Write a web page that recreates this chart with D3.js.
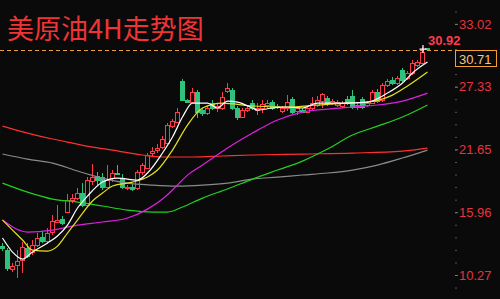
<!DOCTYPE html>
<html><head><meta charset="utf-8">
<script src="https://cdn.jsdelivr.net/npm/d3@7/dist/d3.min.js"></script>
<style>html,body{margin:0;padding:0;background:#0a0a0a;}svg{display:block;}</style>
</head><body>
<svg id="c" width="500" height="299"></svg>
<script>
// ---- data ----
const title = "美原油4H走势图";
const tickValues = [33.02, 27.33, 21.65, 15.96, 10.27];
const tickLabels = ["33.02", "27.33", "21.65", "15.96", "10.27"];
const lastPrice = 30.71;
const highPrice = 30.92;
// candles: [open, high, low, close]
const candles = [
[12.89,13.17,12.44,12.71],[12.53,12.71,10.63,10.90],[10.81,11.35,10.54,11.08],[11.17,12.53,9.99,11.53],
[11.62,13.26,10.45,12.80],[12.71,13.17,11.81,11.99],[12.35,13.44,12.08,12.98],[12.98,14.09,12.80,13.62],
[13.71,14.27,13.17,13.26],[13.26,14.54,13.07,14.00],[14.09,15.70,13.89,15.16],[15.07,16.61,14.98,15.25],
[15.34,15.61,14.80,14.98],[15.97,17.60,15.88,17.06],[17.06,17.60,16.79,17.24],[17.24,18.15,17.06,17.69],
[17.69,18.60,16.43,16.61],[16.61,19.14,16.43,18.87],[18.78,20.32,18.42,19.14],[19.23,19.60,18.42,18.87],
[19.14,19.51,17.97,18.24],[18.24,20.23,18.15,18.87],[19.05,19.78,18.69,19.51],[19.51,20.23,19.33,19.42],
[18.96,19.42,18.06,18.24],[18.15,18.42,17.97,18.24],[18.24,18.51,17.88,18.06],[18.15,19.78,17.97,19.60],
[19.60,20.41,19.33,20.23],[19.96,21.32,19.87,21.14],[21.32,21.86,21.05,21.50],[21.59,22.13,21.32,21.77],
[21.86,22.86,21.68,22.59],[22.22,24.04,22.13,23.86],[23.76,24.40,23.58,24.22],[24.13,25.40,24.04,25.03],
[27.84,28.02,26.03,26.12],[26.12,26.21,25.85,25.94],[25.94,27.21,25.85,26.85],[26.85,27.03,24.49,25.03],
[25.21,25.40,24.67,24.94],[24.94,25.58,24.76,25.40],[25.85,26.12,25.21,25.40],[25.40,25.85,25.03,25.58],
[25.40,26.85,25.21,26.39],[26.94,27.66,26.75,27.21],[27.03,27.21,25.21,25.40],[25.40,25.58,24.31,24.58],
[24.58,25.40,24.49,25.21],[25.21,25.67,25.03,25.40],[25.85,26.12,25.21,25.40],[25.21,25.85,24.76,25.40],
[25.40,26.12,24.94,25.76],[25.67,26.12,25.40,25.85],[25.94,26.12,25.21,25.40],[25.58,25.76,25.31,25.49],
[25.12,25.58,24.94,25.40],[25.31,26.57,25.12,25.94],[26.21,26.39,24.85,25.03],[25.12,25.49,24.76,25.31],
[25.21,25.40,24.94,25.03],[25.03,25.58,24.94,25.40],[25.40,26.39,25.12,25.85],[25.67,26.48,25.49,26.12],
[26.03,26.75,25.40,26.66],[26.30,26.48,25.58,25.85],[25.85,26.21,25.67,26.03],[25.67,26.12,25.49,25.94],
[25.58,26.03,25.40,25.85],[26.21,26.48,25.67,25.85],[26.48,27.03,25.31,25.49],[25.49,25.85,25.21,25.67],
[26.21,26.39,25.31,25.49],[25.67,26.03,25.49,25.85],[25.85,27.03,25.76,26.85],[26.85,27.12,25.85,26.03],
[26.12,27.66,25.94,27.48],[27.48,28.02,27.30,27.84],[27.93,28.20,27.48,27.66],[27.66,28.29,27.48,28.11],
[28.84,29.02,27.75,27.93],[28.11,28.75,27.93,28.57],[28.57,29.74,28.39,29.47],[29.29,29.74,29.11,29.56],
[29.47,30.92,29.38,30.47],[30.80,30.85,30.62,30.71]
];
// moving averages: [candle index, value]
const maWhite = [[0,13.62],[2,12.35],[4,11.71],[6,12.35],[9,13.16],[11,13.80],[13,14.79],[15,16.34],[17,17.42],[20,18.69],[23,19.05],[27,18.87],[29,19.51],[32,21.32],[34,22.77],[36,24.58],[38,25.85],[41,25.85],[43,25.40],[45,26.03],[47,25.94],[50,25.40],[51,25.21],[54,25.40],[57,25.49],[60,25.40],[63,25.85],[68,25.85],[73,25.94],[77,26.75],[80,27.66],[82,28.57],[85,29.56]];
const maYellow = [[0,15.25],[2,14.34],[4,13.44],[6,12.53],[9,12.44],[11,12.89],[13,14.07],[15,15.25],[18,16.97],[20,17.69],[22,18.33],[26,18.69],[29,19.14],[31,19.78],[34,21.59],[37,23.85],[40,25.40],[44,25.85],[50,25.58],[57,25.49],[63,25.67],[69,25.85],[73,25.94],[78,26.57],[81,27.39],[85,28.66]];
const maMagenta = [[0,15.25],[5,14.16],[10,14.34],[15,14.79],[20,15.07],[25,15.43],[29,16.24],[32,17.15],[34,17.97],[37,19.32],[40,20.23],[45,21.77],[50,23.13],[55,24.31],[60,25.03],[65,25.30],[70,25.49],[75,25.67],[80,26.03],[85,26.75]];
const maGreen = [[0,18.60],[5,17.78],[10,17.15],[15,16.88],[20,16.52],[25,16.15],[30,15.97],[33,15.97],[36,16.43],[40,17.24],[45,18.06],[50,18.96],[55,19.78],[60,20.59],[65,21.68],[70,22.95],[75,23.76],[80,24.58],[85,25.67]];
const maGray = [[0,21.23],[5,20.77],[10,20.41],[15,19.69],[20,19.05],[25,18.60],[30,18.42],[35,18.33],[40,18.42],[45,18.60],[50,18.96],[55,19.14],[60,19.33],[65,19.51],[70,19.78],[75,20.23],[80,20.87],[85,21.59]];
const maRed = [[0,23.76],[5,23.13],[10,22.59],[14,22.22],[18,21.86],[22,21.59],[28,21.14],[32,20.96],[38,20.96],[44,21.05],[50,21.14],[60,21.23],[70,21.32],[80,21.50],[85,21.77]];

// ---- drawing ----
const svg = d3.select("#c");
const BG = "#0a0a0a", UP = "#ff3a4a", DOWN = "#2fc27c";
svg.append("rect").attr("width",500).attr("height",299).attr("fill",BG);

const x = d3.scaleLinear().domain([0, 85]).range([2.5, 427.5]);
const y = d3.scaleLinear().domain([10.27, 33.02]).range([275, 23.9]);

// title
svg.append("text").attr("x",7).attr("y",39).text(title)
  .attr("fill","#f03434").attr("font-size",27)
  .attr("font-family","'Noto Sans CJK SC', sans-serif");

// last price dashed line
svg.append("line").attr("x1",0).attr("x2",455)
  .attr("y1",Math.round(y(lastPrice))+1.5).attr("y2",Math.round(y(lastPrice))+1.5)
  .attr("stroke","#e9a040").attr("stroke-width",1).attr("stroke-dasharray","4,3");

// right axis (major + minor ticks)
const step = (tickValues[0]-tickValues[4])/4;
const minor = d3.range(-1, 26).map(k => tickValues[4] + k*step/5).filter(v => y(v) > 5 && y(v) < 296);
const minorAxis = d3.axisRight(y).tickValues(minor).tickSize(2).tickFormat("");
const gm = svg.append("g").attr("transform","translate(455,0)").call(minorAxis);
gm.select(".domain").remove();
gm.selectAll("line").attr("stroke","#555");
const axis = d3.axisRight(y).tickValues(tickValues).tickSize(3).tickPadding(1)
  .tickFormat((d,i) => tickLabels[i]);
const ga = svg.append("g").attr("transform","translate(455,0)").call(axis);
ga.select(".domain").remove();
ga.selectAll("line").attr("stroke","#777");
ga.selectAll("text").attr("fill","#e8323e").attr("font-size",13)
  .attr("font-family","'Liberation Sans', Arial, sans-serif");

// candles
const gc = svg.append("g").attr("shape-rendering","crispEdges");
const cg = gc.selectAll("g").data(candles).join("g");
cg.append("line")
  .attr("x1",(d,i)=>x(i)).attr("x2",(d,i)=>x(i))
  .attr("y1",d=>y(d[1])).attr("y2",d=>y(d[2]))
  .attr("stroke",d=>d[3]>=d[0]?UP:DOWN).attr("stroke-width",1);
cg.append("rect")
  .attr("x",(d,i)=>x(i)-2).attr("width",4)
  .attr("y",d=>y(Math.max(d[0],d[3])))
  .attr("height",d=>Math.max(1, y(Math.min(d[0],d[3]))-y(Math.max(d[0],d[3]))))
  .attr("fill",d=>d[3]>=d[0]?BG:DOWN)
  .attr("stroke",d=>d[3]>=d[0]?UP:DOWN).attr("stroke-width",1);

// moving averages
const line = d3.line().x(d=>x(d[0])).y(d=>y(d[1])).curve(d3.curveMonotoneX);
[[maRed,"#ff3030"],[maGray,"#8a8a8a"],[maGreen,"#22d022"],[maMagenta,"#e020e0"],[maYellow,"#e6e020"],[maWhite,"#ffffff"]]
  .forEach(([data,col]) => {
    svg.append("path").datum(data).attr("d",line).attr("fill","none")
      .attr("stroke",col).attr("stroke-width",1.2);
  });

// high marker
const hx = x(84), hy = y(highPrice);
svg.append("path").attr("d",`M${hx-3},${hy+2}h7M${hx+0.5},${hy-2}v8`)
  .attr("stroke","#fff").attr("stroke-width",1.2);
svg.append("text").attr("x",428).attr("y",45).text(highPrice.toFixed(2))
  .attr("fill","#ff3a4a").attr("font-size",13).attr("font-weight","bold")
  .attr("font-family","'Liberation Sans', Arial, sans-serif");

// last price box
const ly = Math.round(y(lastPrice))+1.5;
svg.append("rect").attr("x",455.5).attr("y",ly).attr("width",41).attr("height",16)
  .attr("fill",BG).attr("stroke","#f0a030").attr("stroke-width",1);
svg.append("text").attr("x",459).attr("y",ly+13).text(lastPrice.toFixed(2))
  .attr("fill","#f6c486").attr("font-size",13)
  .attr("font-family","'Liberation Sans', Arial, sans-serif");
</script>
</body></html>
